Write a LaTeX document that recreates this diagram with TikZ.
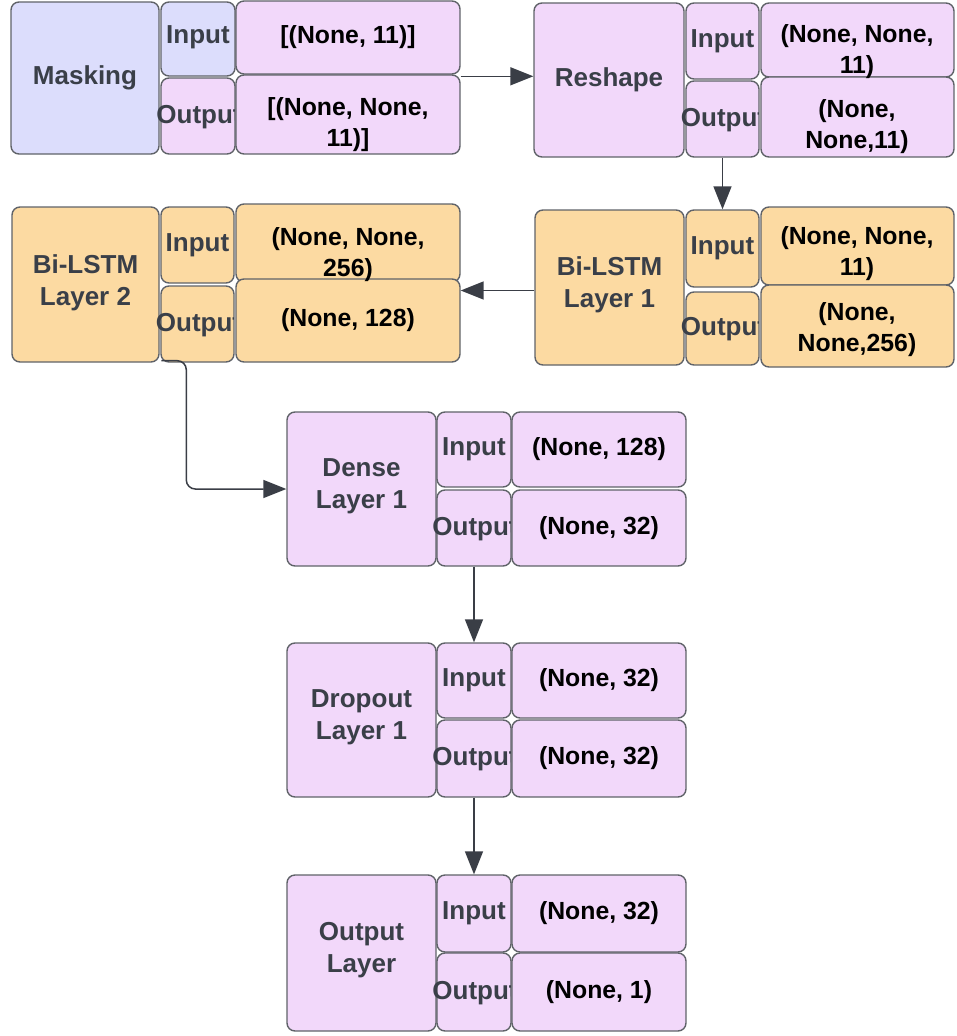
\documentclass[tikz,border=0pt]{standalone}
\usepackage{fontspec}
\setmainfont{Liberation Sans}
\usetikzlibrary{arrows.meta}

\definecolor{cLav}{RGB}{220,221,252}
\definecolor{cPink}{RGB}{242,216,250}
\definecolor{cPeach}{RGB}{252,218,162}
\definecolor{cEdge}{RGB}{96,99,105}
\definecolor{cLabel}{RGB}{58,63,72}
\definecolor{cConn}{RGB}{58,62,70}

\tikzset{
  cell/.style={draw=cEdge, line width=1.4pt, rounded corners=8pt, inner sep=0pt, align=center},
  lbl/.style={font=\fontsize{26}{32}\selectfont\bfseries, text=cLabel, align=center, inner sep=0pt},
  val/.style={font=\fontsize{24.8}{31}\selectfont\bfseries, text=black, align=center, inner sep=0pt},
  conn/.style={draw=cConn, line width=1.5pt, -{Triangle[length=23pt,width=18pt]}},
}

% one rounded cell: {name}{x1}{y1}{x2}{y2}{fill}
\newcommand\mkcell[7][]{%
  \node[cell,#1,fill=#7,minimum width={#5-#3},minimum height={#6-#4}]
    (#2) at ({(#3+#5)/2},{(#4+#6)/2}) {};%
}
% "Output" label, cut off at the right edge of its cell
\newcommand\outlabel[1]{%
  \begin{scope}
    \clip ([xshift=-12pt]#1.south west) rectangle ([xshift=-1.5pt]#1.north east);
    \node[lbl] (#1-t) at ([xshift=1pt,yshift=-1pt]#1.center) {Output};
  \end{scope}%
}

\begin{document}
\begin{tikzpicture}[x=1pt,y=-1pt]
\useasboundingbox (0,0) rectangle (956,1036);

% ---------- cells ----------
% Masking
\mkcell{m-main}{11}{2}{159}{154}{cLav}
\mkcell{m-in}{161}{2}{235}{76}{cLav}
\mkcell{m-out}{161}{78}{235}{154}{cPink}
\mkcell{m-vin}{236}{1}{460}{74}{cPink}
\mkcell{m-vout}{236}{75}{460}{154}{cPink}
% Reshape
\mkcell{r-main}{534}{3}{684}{157}{cPink}
\mkcell{r-in}{686}{3}{759}{79}{cPink}
\mkcell{r-out}{686}{81}{759}{157}{cPink}
\mkcell{r-vin}{761}{3}{954}{77}{cPink}
\mkcell{r-vout}{761}{77}{954}{157}{cPink}
% Bi-LSTM Layer 2
\mkcell{b2-main}{12}{207}{159}{362}{cPeach}
\mkcell{b2-in}{161}{207}{234}{283}{cPeach}
\mkcell{b2-out}{161}{286}{234}{362}{cPeach}
\mkcell{b2-vin}{236}{204}{460}{282}{cPeach}
\mkcell{b2-vout}{236}{279}{460}{362}{cPeach}
% Bi-LSTM Layer 1
\mkcell{b1-main}{535}{210}{684}{365}{cPeach}
\mkcell{b1-in}{686}{210}{759}{287}{cPeach}
\mkcell{b1-out}{686}{292}{759}{365}{cPeach}
\mkcell{b1-vin}{761}{207}{954}{285}{cPeach}
\mkcell{b1-vout}{761}{285}{954}{367}{cPeach}
% Dense Layer 1
\mkcell{d-main}{287}{412}{436}{566}{cPink}
\mkcell{d-in}{437}{412}{511}{487}{cPink}
\mkcell{d-out}{437}{490}{511}{566}{cPink}
\mkcell{d-vin}{512}{412}{686}{487}{cPink}
\mkcell{d-vout}{512}{490}{686}{566}{cPink}
% Dropout Layer 1
\mkcell{dr-main}{287}{643}{436}{797}{cPink}
\mkcell{dr-in}{437}{643}{511}{718}{cPink}
\mkcell{dr-out}{437}{720}{511}{797}{cPink}
\mkcell{dr-vin}{512}{643}{686}{718}{cPink}
\mkcell{dr-vout}{512}{720}{686}{797}{cPink}
% Output Layer
\mkcell{o-main}{287}{875}{436}{1031}{cPink}
\mkcell{o-in}{437}{875}{511}{952}{cPink}
\mkcell{o-out}{437}{953}{511}{1031}{cPink}
\mkcell{o-vin}{512}{875}{686}{952}{cPink}
\mkcell{o-vout}{512}{953}{686}{1031}{cPink}

% ---------- texts ----------
\node[lbl] (m-main-t) at (m-main) {Masking};
\node[lbl] (m-in-t) at ([yshift=2pt]m-in.center) {Input};
\outlabel{m-out}
\node[val] (m-vin-t) at (m-vin) {[(None, 11)]};
\node[val] (m-vout-t) at (348,125) {[(None, None,\\11)]};

\node[lbl] (r-main-t) at (r-main) {Reshape};
\node[lbl] (r-in-t) at (r-in) {Input};
\outlabel{r-out}
\node[val] (r-vin-t) at (857,52) {(None, None,\\11)};
\node[val] (r-vout-t) at (857,127) {(None,\\None,11)};

\node[lbl] (b2-main-t) at ([yshift=2pt]b2-main.center) {Bi-LSTM\\Layer 2};
\node[lbl] (b2-in-t) at (b2-in) {Input};
\outlabel{b2-out}
\node[val] (b2-vin-t) at (348,255) {(None, None,\\256)};
\node[val] (b2-vout-t) at (b2-vout) {(None, 128)};

\node[lbl] (b1-main-t) at ([yshift=3pt]b1-main.center) {Bi-LSTM\\Layer 1};
\node[lbl] (b1-in-t) at (b1-in) {Input};
\outlabel{b1-out}
\node[val] (b1-vin-t) at (857,254) {(None, None,\\11)};
\node[val] (b1-vout-t) at (857,330) {(None,\\None,256)};

\node[lbl] (d-main-t) at ([yshift=3pt]d-main.center) {Dense\\Layer 1};
\node[lbl] (d-in-t) at (d-in) {Input};
\outlabel{d-out}
\node[val] (d-vin-t) at (d-vin) {(None, 128)};
\node[val] (d-vout-t) at (d-vout) {(None, 32)};

\node[lbl] (dr-main-t) at ([yshift=3pt]dr-main.center) {Dropout\\Layer 1};
\node[lbl] (dr-in-t) at (dr-in) {Input};
\outlabel{dr-out}
\node[val] (dr-vin-t) at (dr-vin) {(None, 32)};
\node[val] (dr-vout-t) at (dr-vout) {(None, 32)};

\node[lbl] (o-main-t) at ([yshift=3pt]o-main.center) {Output\\Layer};
\node[lbl] (o-in-t) at (o-in) {Input};
\outlabel{o-out}
\node[val] (o-vin-t) at (o-vin) {(None, 32)};
\node[val] (o-vout-t) at (o-vout) {(None, 1)};

% ---------- connectors ----------
\draw[conn] ([yshift=-2pt]m-vout.north east) -- ([yshift=-2pt]m-vout.north east -| r-main.west);
\draw[conn] (r-out.south) -- (b1-in.north);
\draw[conn] ([yshift=-3pt]b1-main.west) -- ([yshift=-3pt]b1-main.west -| b2-vout.east);
\draw[conn, rounded corners=9pt] ([xshift=1pt,yshift=2pt]b2-out.south west)
  -| ([xshift=26pt]b2-out.south west |- d-main.west) -- (d-main.west);
\draw[conn] (d-out.south) -- (dr-in.north);
\draw[conn] (dr-out.south) -- (o-in.north);
\end{tikzpicture}
\end{document}
